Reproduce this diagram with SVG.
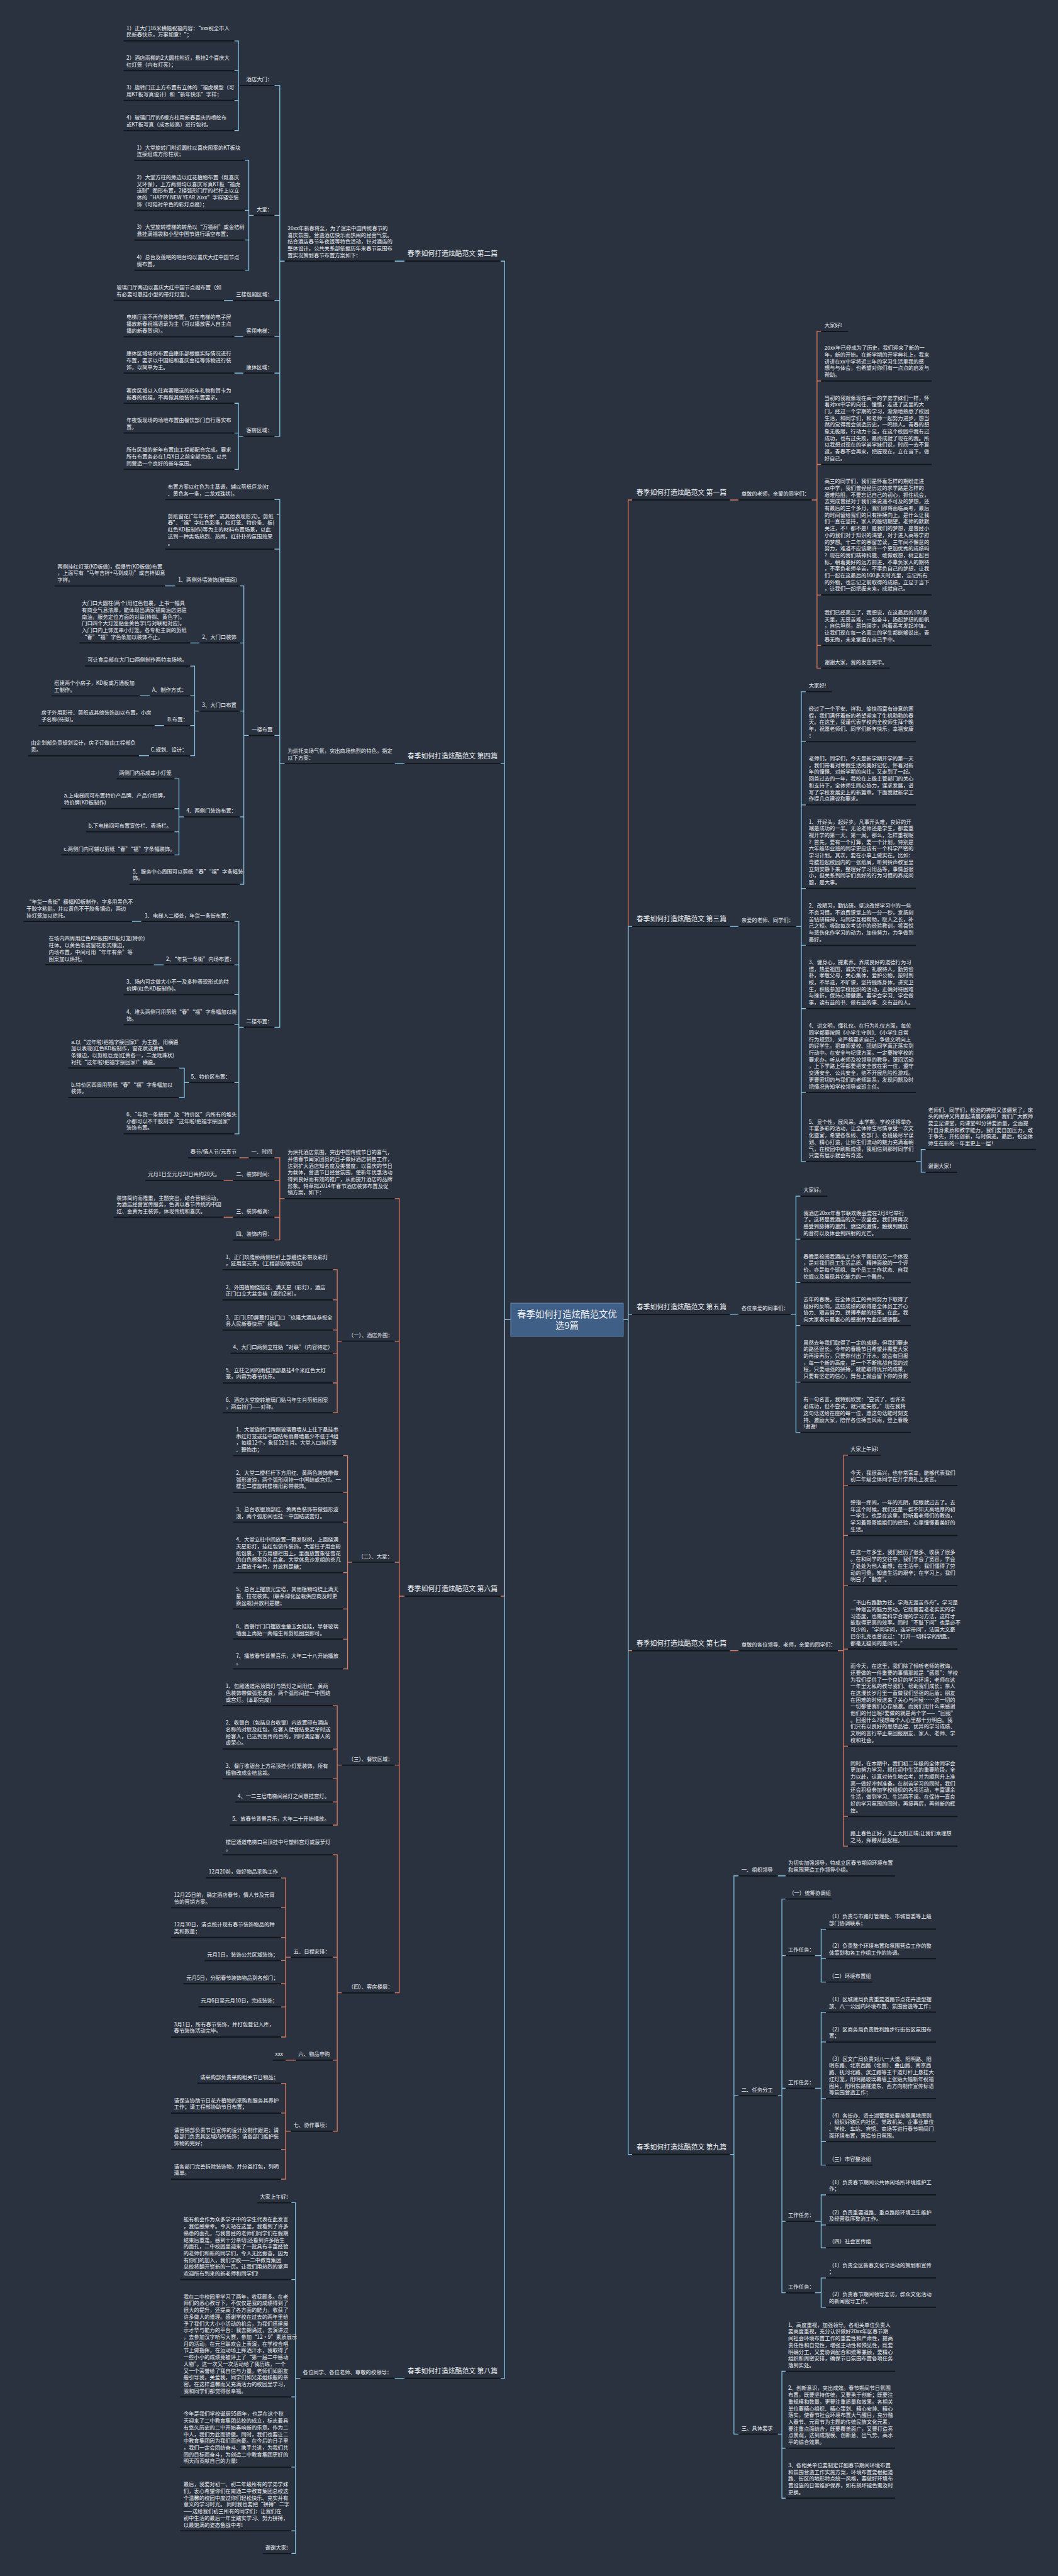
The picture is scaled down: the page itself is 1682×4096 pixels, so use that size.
<svg xmlns="http://www.w3.org/2000/svg" width="1682" height="4096" viewBox="0 0 1682 4096">
<style>
.t{font-family:"Noto Sans CJK SC","Noto Sans",sans-serif;font-size:12.7px;fill:#eef0f3}
.h{font-size:16.5px}
.u{stroke:#12161c;stroke-width:3;fill:none}
.cb{stroke:#86c5e3;stroke-width:2;fill:none}
.co{stroke:#dc7b60;stroke-width:2;fill:none}
</style>
<rect width="1682" height="4096" fill="#2a3240"/>
<g transform="scale(0.657)">
<g id="connectors">
<g class="co">
<path d="M1236 3194H1221V3863H1211"/>
<path d="M1508 3194H1520V1210H1530M1508 3194H1520V3995H1530"/>
<path d="M979 3863H966V2901H955M966 3863V3246H955M966 3863V3781H955M966 3863V4272H955M966 3863V4823H955"/>
<path d="M689 2901H677V2802H664M677 2901V2857H664M677 2901V2946H664M677 2901V3001H664M602 2802H579M564 2857H541M564 2946H541"/>
<path d="M827 3246H816V3073H805M816 3246V3146H805M816 3246V3219H805M816 3246V3275H805M816 3246V3347H805M816 3246V3419H805"/>
<path d="M852 3781H841V3523H830M841 3781V3612H830M841 3781V3684H830M841 3781V3806H830M841 3781V3894H830M841 3781V3967H830M841 3781V4039H830"/>
<path d="M827 4272H816V4128H805M816 4272V4233H805M816 4272V4305H805M816 4272V4361H805M816 4272V4417H805"/>
<path d="M827 4823H816V4489H805M816 4823V4737H805M816 4823V4986H805M816 4823V5158H805"/>
<path d="M704 4737H691V4545H680M691 4737V4617H680M691 4737V4689H680M691 4737V4745H680M691 4737V4801H680M691 4737V4857H680M691 4737V4930H680M716 4986H691"/>
<path d="M704 5158H691V5042H680M691 5158V5114H680M691 5158V5202H680M691 5158V5274H680"/>
<path d="M1766 1210H1787M1964 1210H1977V802H1987M1977 1210V922H1987M1977 1210V1124H1987M1977 1210V1440H1987M1977 1210V1562H1987M1977 1210V1617H1987"/>
<path d="M1766 3995H1787M2027 3995H2041V3522H2052M2041 3995V3595H2052M2041 3995V3716H2052M2041 3995V3837H2052M2041 3995V3991H2052M2041 3995V4226H2052M2041 3995V4396H2052M2041 3995V4468H2052"/>
</g>
<g class="cb">
<path d="M1236 3194H1221V632H1211M1236 3194H1221V1848H1211M1236 3194H1221V5756H1211"/>
<path d="M1508 3194H1520V2242H1530M1508 3194H1520V3181H1530M1508 3194H1520V5214H1530"/>
<path d="M979 632H955M689 632H677V207H664M677 632V521H664M677 632V727H664M677 632V815H664M677 632V903H664M677 632V1056H664"/>
<path d="M579 207H577V99H567M577 207V171H567M577 207V243H567M577 207V316H567"/>
<path d="M614 521H602V388H592M602 521V509H592M602 521V581H592M602 521V654H592M564 727H542M589 815H567M589 903H567"/>
<path d="M589 1056H577V976H567M577 1056V1048H567M577 1056V1136H567"/>
<path d="M979 1848H955M689 1848H677V1209H664M677 1848V1329H664M677 1848V1780H664M677 1848V2486H664"/>
<path d="M602 1780H590V1418H580M590 1780V1556H580M590 1780V1721H580M590 1780V1977H580M590 1780V2140H580M424 1418H399M483 1556H460"/>
<path d="M483 1721H471V1612H460M471 1721V1684H460M471 1721V1756H460M471 1721V1829H460M363 1684H338M397 1756H374M361 1829H336"/>
<path d="M445 1977H433V1885H422M433 1977V1957H422M433 1977V2013H422M433 1977V2069H422"/>
<path d="M590 2486H578V2230H567M578 2486V2335H567M578 2486V2407H567M578 2486V2480H567M578 2486V2620H567M578 2486V2744H567M342 2230H319M396 2335H372M458 2620H446V2585H433M446 2620V2656H433"/>
<path d="M979 5756H955M727 5756H715V5331H705M715 5756V5517H705M715 5756V5801H705M715 5756V5971H705M715 5756V6125H705M715 5756V6180H705"/>
<path d="M1766 2242H1787M1926 2242H1939V1674H1950M1939 2242V1795H1950M1939 2242V1948H1950M1939 2242V2150H1950M1939 2242V2288H1950M1939 2242V2441H1950M1939 2242V2644H1950M1939 2242V2811H1950M2216 2811H2229V2782H2240M2229 2811V2837H2240"/>
<path d="M1766 3181H1787M1913 3181H1926V2895H1937M1926 3181V2999H1937M1926 3181V3104H1937M1926 3181V3208H1937M1926 3181V3345H1937M1926 3181V3467H1937"/>
<path d="M1766 5214H1776V4540H1787M1776 5214V5072H1787M1776 5214V5891H1787M1882 4540H1901M1882 5072H1892V4596H1901M1892 5072V4733H1901M1892 5072V5054H1901M1892 5072V5376H1901M1892 5072V5549H1901M1882 5891H1892V5739H1901M1892 5891V5925H1901M1892 5891V6046H1901"/>
<path d="M1972 4733H1987V4669H1999M1987 4733V4740H1999M1987 4733V4797H1999M1972 5054H1987V4870H1999M1987 5054V4942H1999M1987 5054V5079H1999M1987 5054V5183H1999M1987 5054V5240H1999M1972 5376H1987V5312H1999M1987 5376V5385H1999M1987 5376V5440H1999M1972 5549H1987V5513H1999M1987 5549V5584H1999"/>
</g>
</g>

<g id="center">
<rect x="1236" y="3154" width="272" height="80" fill="#3f5f86" stroke="#5f82ab" stroke-width="2"/>
<text class="t" x="1372" y="3188" font-size="22" text-anchor="middle" style="font-size:22px">春季如何打造炫酷范文优<tspan x="1372" dy="28">选9篇</tspan></text>
</g>

<!-- 第二篇 -->
<g id="b2"><text class="t h" x="986" y="620">春季如何打造炫酷范文 第二篇</text><path class="u" d="M979 632H1211"/></g>
<g id="b2i"><text class="t" x="696" y="556.8">20xx年新春将至，为了渲染中国传统春节的<tspan x="696" dy="16.3">喜庆氛围，营造酒店快乐而热闹的经营气氛。</tspan><tspan x="696" dy="16.3">结合酒店春节年夜饭等特色活动，针对酒店的</tspan><tspan x="696" dy="16.3">整体设计，公共关系部依据历年来春节氛围布</tspan><tspan x="696" dy="16.3">置实况策划春节布置方案如下：</tspan></text><path class="u" d="M689 632H955"/></g>
<g id="b2a"><text class="t" x="596" y="197">酒店大门：</text><path class="u" d="M579 207H664"/></g>
<g id="b2a1"><text class="t" x="306" y="72.7">1）正大门16米横幅祝福内容：“xxx祝全市人<tspan x="306" dy="16.3">民新春快乐，万事如意！”；</tspan></text><path class="u" d="M299 99H567"/></g>
<g id="b2a2"><text class="t" x="306" y="144.7">2）酒店雨棚的2大圆柱附近，悬挂2个喜庆大<tspan x="306" dy="16.3">红灯笼（内有灯亮）；</tspan></text><path class="u" d="M299 171H567"/></g>
<g id="b2a3"><text class="t" x="306" y="216.7">3）旋转门正上方布置有立体的“福虎模型（可<tspan x="306" dy="16.3">用KT板写真设计）和“新年快乐”字样；</tspan></text><path class="u" d="M299 243H567"/></g>
<g id="b2a4"><text class="t" x="306" y="289.7">4）玻璃门厅的6根方柱用新春喜庆的喷绘布<tspan x="306" dy="16.3">或KT板写真（成本较高）进行包衬。</tspan></text><path class="u" d="M299 316H567"/></g>
<g id="b2b"><text class="t" x="621" y="511">大堂：</text><path class="u" d="M614 521H664"/></g>
<g id="b2b1"><text class="t" x="331" y="361.7">1）大堂旋转门附近圆柱以喜庆图案的KT板块<tspan x="331" dy="16.3">连接组成方形柱状；</tspan></text><path class="u" d="M325 388H592"/></g>
<g id="b2b2"><text class="t" x="331" y="433.8">2）大堂方柱的旁边以红花植物布置（既喜庆<tspan x="331" dy="16.3">又环保），上方两侧均以喜庆写真KT板“福虎</tspan><tspan x="331" dy="16.3">送财”图形布置，2楼弧形门厅的栏杆上以立</tspan><tspan x="331" dy="16.3">体的“HAPPY NEW YEAR 20xx”字样镂空装</tspan><tspan x="331" dy="16.3">饰（可陪衬单色的彩灯点缀）；</tspan></text><path class="u" d="M325 509H592"/></g>
<g id="b2b3"><text class="t" x="331" y="554.7">3）大堂旋转楼梯的转角以“万福树”或金桔树<tspan x="331" dy="16.3">悬挂满福袋和小型中国节进行填空布置；</tspan></text><path class="u" d="M325 581H592"/></g>
<g id="b2b4"><text class="t" x="331" y="627.7">4）总台及莲吧的吧台均以喜庆大红中国节点<tspan x="331" dy="16.3">缀布置。</tspan></text><path class="u" d="M325 654H592"/></g>
<g id="b2c"><text class="t" x="571" y="717">三楼包厢区域：</text><path class="u" d="M564 727H664"/></g>
<g id="b2c1"><text class="t" x="282" y="700.7">玻璃门厅两边以喜庆大红中国节点缀布置（如<tspan x="282" dy="16.3">有必要可悬挂小型的带灯灯笼）。</tspan></text><path class="u" d="M275 727H542"/></g>
<g id="b2d"><text class="t" x="596" y="805">客用电梯：</text><path class="u" d="M589 815H664"/></g>
<g id="b2d1"><text class="t" x="306" y="772.4">电梯厅面不再作装饰布置，仅在电梯的电子屏<tspan x="306" dy="16.3">播放新春祝福语录为主（可以播放客人自主点</tspan><tspan x="306" dy="16.3">播的新春贺词）。</tspan></text><path class="u" d="M299 815H567"/></g>
<g id="b2e"><text class="t" x="596" y="893">康体区域：</text><path class="u" d="M589 903H664"/></g>
<g id="b2e1"><text class="t" x="306" y="860.4">康体区域场的布置由康乐部根据实际情况进行<tspan x="306" dy="16.3">布置，要求以中国结和喜庆金桔等饰物进行装</tspan><tspan x="306" dy="16.3">饰，以简单为主。</tspan></text><path class="u" d="M299 903H567"/></g>
<g id="b2f"><text class="t" x="596" y="1046">客房区域：</text><path class="u" d="M589 1056H664"/></g>
<g id="b2f1"><text class="t" x="306" y="949.7">客房区域以入住宾客赠送的新年礼物和贺卡为<tspan x="306" dy="16.3">新春的祝福，不再做其他装饰布置要求。</tspan></text><path class="u" d="M299 976H567"/></g>
<g id="b2f2"><text class="t" x="306" y="1021.7">年夜饭现场的场地布置由餐饮部门自行落实布<tspan x="306" dy="16.3">置。</tspan></text><path class="u" d="M299 1048H567"/></g>
<g id="b2f3"><text class="t" x="306" y="1093.4">所有区域的新年布置由工程部配合完成，要求<tspan x="306" dy="16.3">所有布置务必在1月X日之前全部完成，以共</tspan><tspan x="306" dy="16.3">同营造一个良好的新年氛围。</tspan></text><path class="u" d="M299 1136H567"/></g>

<!-- 第四篇 -->
<g id="b4"><text class="t h" x="986" y="1836">春季如何打造炫酷范文 第四篇</text><path class="u" d="M979 1848H1211"/></g>
<g id="b4i"><text class="t" x="696" y="1821.7">为烘托卖场气氛，突出商场热烈的特色，指定<tspan x="696" dy="16.3">以下方案：</tspan></text><path class="u" d="M689 1848H955"/></g>
<g id="b4a"><text class="t" x="406" y="1182.7">布置方案以红色为主基调，辅以剪纸巨龙(红<tspan x="406" dy="16.3">、黄色各一条，二龙戏珠状)。</tspan></text><path class="u" d="M400 1209H664"/></g>
<g id="b4b"><text class="t" x="406" y="1253.8">剪纸窗花(“年年有余”或其他表现形式)。剪纸“<tspan x="406" dy="16.3">春”、“福”字红色彩条，红灯笼、特价条、板(</tspan><tspan x="406" dy="16.3">红色KD板制作)等为主的材料布置场景，以此</tspan><tspan x="406" dy="16.3">达到一种卖场热烈、热闹，红扑扑的氛围效果</tspan><tspan x="406" dy="16.3">。</tspan></text><path class="u" d="M400 1329H664"/></g>
<g id="b4c"><text class="t" x="609" y="1770">一楼布置</text><path class="u" d="M602 1780H664"/></g>
<g id="b4c1"><text class="t" x="431" y="1408">1、两侧外墙装饰(玻璃面)</text><path class="u" d="M424 1418H580"/></g>
<g id="b4c1a"><text class="t" x="139" y="1375.4">两侧挂红灯笼(KD板做)，假爆竹(KD板做)布置<tspan x="139" dy="16.3">，上面写有“马年吉祥+马到成功”或吉祥如意</tspan><tspan x="139" dy="16.3">字样。</tspan></text><path class="u" d="M132 1418H399"/></g>
<g id="b4c2"><text class="t" x="489" y="1546">2、大门口装饰</text><path class="u" d="M483 1556H580"/></g>
<g id="b4c2a"><text class="t" x="198" y="1464.5">大门口大圆柱(两个)用红色包裹，上书一幅具<tspan x="198" dy="16.3">有商业气息浓厚，能体现出满家福南油店进驻</tspan><tspan x="198" dy="16.3">南油，服务定位方面的对联(待拟、黄色字)。</tspan><tspan x="198" dy="16.3">门口四个大灯笼贴金黄色字(与对联相对应)。</tspan><tspan x="198" dy="16.3">入门口内上饰连串小灯笼。各专柜主调的剪纸</tspan><tspan x="198" dy="16.3">“春”“福”字色条加以装饰不止。</tspan></text><path class="u" d="M192 1556H460"/></g>
<g id="b4c3"><text class="t" x="489" y="1711">3、大门口布置</text><path class="u" d="M483 1721H580"/></g>
<g id="b4c3a"><text class="t" x="212" y="1602">可让食品部在大门口两侧制作两特卖场地。</text><path class="u" d="M206 1612H460"/></g>
<g id="b4c3b"><text class="t" x="368" y="1674">A、制作方式：</text><path class="u" d="M363 1684H460"/></g>
<g id="b4c3b1"><text class="t" x="131" y="1657.7">搭建两个小房子，KD板或万通板加<tspan x="131" dy="16.3">工制作。</tspan></text><path class="u" d="M125 1684H338"/></g>
<g id="b4c3c"><text class="t" x="405" y="1746">B.布置：</text><path class="u" d="M397 1756H460"/></g>
<g id="b4c3c1"><text class="t" x="100" y="1729.7">房子外用彩带、剪纸或其他装饰加以布置，小房<tspan x="100" dy="16.3">子名称(待拟)。</tspan></text><path class="u" d="M93 1756H374"/></g>
<g id="b4c3d"><text class="t" x="365" y="1819">C.规划、设计：</text><path class="u" d="M361 1829H460"/></g>
<g id="b4c3d1"><text class="t" x="75" y="1802.7">由企划部负责规划设计，房子订做由工程部负<tspan x="75" dy="16.3">责。</tspan></text><path class="u" d="M68 1829H336"/></g>
<g id="b4c4"><text class="t" x="451" y="1967">4、两侧门装饰布置：</text><path class="u" d="M445 1977H580"/></g>
<g id="b4c4a"><text class="t" x="288" y="1875">两侧门内吊成串小灯笼</text><path class="u" d="M282 1885H422"/></g>
<g id="b4c4b"><text class="t" x="155" y="1930.7">a.上电梯间可布置特价产品牌、产品介绍牌，<tspan x="155" dy="16.3">特价牌(KD板制作)</tspan></text><path class="u" d="M148 1957H422"/></g>
<g id="b4c4c"><text class="t" x="214" y="2003">b.下电梯间可布置宣传栏、表扬栏。</text><path class="u" d="M208 2013H422"/></g>
<g id="b4c4d"><text class="t" x="154" y="2059">c.两侧门内可辅以剪纸“春”“福”字条幅装饰。</text><path class="u" d="M148 2069H422"/></g>
<g id="b4c5"><text class="t" x="321" y="2113.7">5、服务中心周围可以剪纸“春”“福”字条幅装<tspan x="321" dy="16.3">饰。</tspan></text><path class="u" d="M313 2140H580"/></g>
<g id="b4d"><text class="t" x="596" y="2476">二楼布置：</text><path class="u" d="M590 2486H664"/></g>
<g id="b4d1"><text class="t" x="350" y="2220">1、电梯入二楼处，年货一条街布置：</text><path class="u" d="M342 2230H567"/></g>
<g id="b4d1a"><text class="t" x="64" y="2187.4">“年货一条街”横幅KD板制作，字多用黑色不<tspan x="64" dy="16.3">干胶字粘贴，并以黄色不干胶条镶边，两边</tspan><tspan x="64" dy="16.3">挂灯笼加以烘托。</tspan></text><path class="u" d="M57 2230H319"/></g>
<g id="b4d2"><text class="t" x="402" y="2325">2、“年货一条街”内场布置：</text><path class="u" d="M396 2335H567"/></g>
<g id="b4d2a"><text class="t" x="118" y="2276.1">在场内四周用红色KD板围KD板灯笼(特价)<tspan x="118" dy="16.3">柱体。以黄色条或窗花形式镶边，</tspan><tspan x="118" dy="16.3">内场布置，中间可用“年年有余”等</tspan><tspan x="118" dy="16.3">图案加以烘托。</tspan></text><path class="u" d="M110 2335H372"/></g>
<g id="b4d3"><text class="t" x="306" y="2380.7">3、场内可定做大小不一及多种表现形式的特<tspan x="306" dy="16.3">价牌(红色KD板制作)。</tspan></text><path class="u" d="M299 2407H567"/></g>
<g id="b4d4"><text class="t" x="306" y="2453.7">4、堆头两侧可用剪纸“春”“福”字条幅加以装<tspan x="306" dy="16.3">饰。</tspan></text><path class="u" d="M299 2480H567"/></g>
<g id="b4d5"><text class="t" x="462" y="2610">5、特价区布置：</text><path class="u" d="M458 2620H567"/></g>
<g id="b4d5a"><text class="t" x="172" y="2526.1">a.以“过年啦!把福字接回家!”为主题，用横匾<tspan x="172" dy="16.3">加以表现(红色KD板制作，窗花状或黄色</tspan><tspan x="172" dy="16.3">条镶边，以剪纸巨龙(红黄各一，二龙戏珠状)</tspan><tspan x="172" dy="16.3">衬托“过年啦!把福字接回家!”横匾。</tspan></text><path class="u" d="M165 2585H433"/></g>
<g id="b4d5b"><text class="t" x="172" y="2629.7">b.特价区四周用剪纸“春”“福”字条幅加以<tspan x="172" dy="16.3">装饰。</tspan></text><path class="u" d="M165 2656H433"/></g>
<g id="b4d6"><text class="t" x="306" y="2701.4">6、“年货一条接街”及“特价区”内所有的堆头<tspan x="306" dy="16.3">小都可以不干胶刻字“过年啦!把福字接回家”</tspan><tspan x="306" dy="16.3">装饰布置。</tspan></text><path class="u" d="M299 2744H567"/></g>

<!-- 第六篇 -->
<g id="b6"><text class="t h" x="986" y="3851">春季如何打造炫酷范文 第六篇</text><path class="u" d="M979 3863H1211"/></g>
<g id="b6i"><text class="t" x="696" y="2793.2">为烘托酒店氛围，突出中国传统节日的喜气，<tspan x="696" dy="16.3">并借春节阖家团员的日子做好酒店销售工作，</tspan><tspan x="696" dy="16.3">达到扩大酒店知名度及美誉度，以喜庆的节日</tspan><tspan x="696" dy="16.3">为载体，营造节日经营氛围，使新年优惠活动</tspan><tspan x="696" dy="16.3">得到良好而有效的推广，从而提升酒店的品牌</tspan><tspan x="696" dy="16.3">形象。特草拟2014年春节酒店装饰布置及促</tspan><tspan x="696" dy="16.3">销方案，如下：</tspan></text><path class="u" d="M689 2901H955"/></g>
<g id="b6i1"><text class="t" x="608" y="2792">一、时间</text><path class="u" d="M602 2802H664"/></g>
<g id="b6i1a"><text class="t" x="461" y="2792">春节/情人节/元宵节</text><path class="u" d="M455 2802H579"/></g>
<g id="b6i2"><text class="t" x="571" y="2847">二、装饰时间：</text><path class="u" d="M564 2857H664"/></g>
<g id="b6i2a"><text class="t" x="358" y="2847">元月1日至元月20日共约20天。</text><path class="u" d="M352 2857H541"/></g>
<g id="b6i3"><text class="t" x="571" y="2936">三、装饰格调：</text><path class="u" d="M564 2946H664"/></g>
<g id="b6i3a"><text class="t" x="282" y="2903.4">装饰简约而隆重，主题突出，结合营销活动，<tspan x="282" dy="16.3">为酒店经营宣传服务，色调以春节传统的中国</tspan><tspan x="282" dy="16.3">红、金黄为主装饰，体现传统和喜庆。</tspan></text><path class="u" d="M275 2946H541"/></g>
<g id="b6i4"><text class="t" x="571" y="2991">四、装饰内容：</text><path class="u" d="M564 3001H664"/></g>
<g id="b6a"><text class="t" x="843" y="3236">（一）、酒店外围：</text><path class="u" d="M827 3246H955"/></g>
<g id="b6a1"><text class="t" x="546" y="3046.7">1、正门玖隆桥两侧栏杆上部缠绕彩带及彩灯<tspan x="546" dy="16.3">，延用至元宵。(工程部协助完成)</tspan></text><path class="u" d="M539 3073H805"/></g>
<g id="b6a2"><text class="t" x="546" y="3119.7">2、外围植物绕拉花、满天星（彩灯），酒店<tspan x="546" dy="16.3">正门口立大盆金桔（高约2米）。</tspan></text><path class="u" d="M539 3146H805"/></g>
<g id="b6a3"><text class="t" x="546" y="3192.7">3、正门LED屏幕打出门口“玖隆大酒店恭祝全<tspan x="546" dy="16.3">县人民新春快乐”横幅。</tspan></text><path class="u" d="M539 3219H805"/></g>
<g id="b6a4"><text class="t" x="564" y="3265">4、大门口两侧立柱贴“对联”（内容待定）</text><path class="u" d="M558 3275H805"/></g>
<g id="b6a5"><text class="t" x="546" y="3320.7">5、立柱之间的雨搭顶部悬挂4个米红色大灯<tspan x="546" dy="16.3">笼，内容为春节快乐。</tspan></text><path class="u" d="M539 3347H805"/></g>
<g id="b6a6"><text class="t" x="546" y="3392.7">6、酒店大堂旋转玻璃门贴马年生肖剪纸图案<tspan x="546" dy="16.3">，两扇拉门——对称。</tspan></text><path class="u" d="M539 3419H805"/></g>
<g id="b6b"><text class="t" x="867" y="3771">（二）、大堂：</text><path class="u" d="M852 3781H955"/></g>
<g id="b6b1"><text class="t" x="571" y="3464.1">1、大堂旋转门两侧玻璃幕墙从上往下悬挂串<tspan x="571" dy="16.3">串红灯笼或挂中国结每扇幕墙最少不低于4组</tspan><tspan x="571" dy="16.3">，每组12个，象征12生肖。大堂入口挂灯笼</tspan><tspan x="571" dy="16.3">、鞭炮串；</tspan></text><path class="u" d="M564 3523H830"/></g>
<g id="b6b2"><text class="t" x="571" y="3569.4">2、大堂二楼栏杆下方用红、黄两色装饰带做<tspan x="571" dy="16.3">弧形波浪，两个弧形间挂一中国结或宫灯。一</tspan><tspan x="571" dy="16.3">楼至二楼旋转楼梯用彩带装饰。</tspan></text><path class="u" d="M564 3612H830"/></g>
<g id="b6b3"><text class="t" x="571" y="3657.7">3、总台收银顶部红、黄两色装饰带做弧形波<tspan x="571" dy="16.3">浪，两个弧形间也挂一中国结或宫灯。</tspan></text><path class="u" d="M564 3684H830"/></g>
<g id="b6b4"><text class="t" x="571" y="3730.8">4、大堂立柱中间放置一颗发财树，上面绕满<tspan x="571" dy="16.3">天星彩灯，挂红包袋作装饰，大堂柱子用金粉</tspan><tspan x="571" dy="16.3">纸包裹，下方用栅栏围上，里面放置象征雪花</tspan><tspan x="571" dy="16.3">的白色棉絮及礼品盒。大堂休息沙发组的茶几</tspan><tspan x="571" dy="16.3">上摆放千年竹，并放利是糖；</tspan></text><path class="u" d="M564 3806H830"/></g>
<g id="b6b5"><text class="t" x="571" y="3851.4">5、总台上摆放元宝塔，其他植物均绕上满天<tspan x="571" dy="16.3">星、拉花装饰。(联系绿化盆栽供应商及时更</tspan><tspan x="571" dy="16.3">换盆栽)并放利是糖；</tspan></text><path class="u" d="M564 3894H830"/></g>
<g id="b6b6"><text class="t" x="571" y="3940.7">6、西餐厅门口摆放金童玉女娃娃，早餐玻璃<tspan x="571" dy="16.3">墙面上再贴一两幅生肖剪纸图案即可。</tspan></text><path class="u" d="M564 3967H830"/></g>
<g id="b6b7"><text class="t" x="571" y="4012.7">7、播放春节背景音乐，大年二十八开始播放<tspan x="571" dy="16.3">。</tspan></text><path class="u" d="M564 4039H830"/></g>
<g id="b6c"><text class="t" x="843" y="4262">（三）、餐饮区域：</text><path class="u" d="M827 4272H955"/></g>
<g id="b6c1"><text class="t" x="546" y="4085.4">1、包厢通道吊顶筒灯与筒灯之间用红、黄两<tspan x="546" dy="16.3">色装饰带做弧形波浪，两个弧形间挂一中国结</tspan><tspan x="546" dy="16.3">或宫灯。(本职完成)</tspan></text><path class="u" d="M539 4128H805"/></g>
<g id="b6c2"><text class="t" x="546" y="4174.1">2、收银台（包括总台收银）内放置印有酒店<tspan x="546" dy="16.3">名称的对联及红包，在客人就餐结束买单时送</tspan><tspan x="546" dy="16.3">给客人，已达到宣传的目的，同时满足客人的</tspan><tspan x="546" dy="16.3">虚荣心。</tspan></text><path class="u" d="M539 4233H805"/></g>
<g id="b6c3"><text class="t" x="546" y="4278.7">3、餐厅收银台上方吊顶挂小灯笼装饰，所有<tspan x="546" dy="16.3">植物改成金桔盆栽。</tspan></text><path class="u" d="M539 4305H805"/></g>
<g id="b6c4"><text class="t" x="575" y="4351">4、一二三层电梯间吊灯之间悬挂宫灯。</text><path class="u" d="M569 4361H805"/></g>
<g id="b6c5"><text class="t" x="562" y="4407">5、放春节背景音乐，大年二十开始播放。</text><path class="u" d="M556 4417H805"/></g>
<g id="b6d"><text class="t" x="843" y="4813">（四）、客房楼层：</text><path class="u" d="M827 4823H955"/></g>
<g id="b6d1"><text class="t" x="546" y="4462.7">楼层通道电梯口吊顶挂中号塑料宫灯或菠萝灯<tspan x="546" dy="16.3">。</tspan></text><path class="u" d="M539 4489H805"/></g>
<g id="b6d2"><text class="t" x="710" y="4727">五、日程安排：</text><path class="u" d="M704 4737H805"/></g>
<g id="b6d2a"><text class="t" x="505" y="4535">12月20前，做好物品采购工作</text><path class="u" d="M499 4545H680"/></g>
<g id="b6d2b"><text class="t" x="421" y="4590.7">12月25日前，确定酒店春节，情人节及元宵<tspan x="421" dy="16.3">节的营销方案。</tspan></text><path class="u" d="M414 4617H680"/></g>
<g id="b6d2c"><text class="t" x="421" y="4662.7">12月30日，清点统计现有春节装饰物品的种<tspan x="421" dy="16.3">类和数量；</tspan></text><path class="u" d="M414 4689H680"/></g>
<g id="b6d2d"><text class="t" x="501" y="4735">元月1日，装饰公共区域装饰；</text><path class="u" d="M495 4745H680"/></g>
<g id="b6d2e"><text class="t" x="451" y="4791">元月5日，分配春节装饰物品到各部门；</text><path class="u" d="M444 4801H680"/></g>
<g id="b6d2f"><text class="t" x="486" y="4847">元月6日至元月10日，完成装饰；</text><path class="u" d="M480 4857H680"/></g>
<g id="b6d2g"><text class="t" x="421" y="4903.7">3月1日，所有春节装饰，并打包登记入库，<tspan x="421" dy="16.3">春节装饰活动完毕。</tspan></text><path class="u" d="M414 4930H680"/></g>
<g id="b6d3"><text class="t" x="722" y="4976">六、物品申购</text><path class="u" d="M716 4986H805"/></g>
<g id="b6d3a"><text class="t" x="666" y="4976">xxx</text><path class="u" d="M660 4986H691"/></g>
<g id="b6d4"><text class="t" x="710" y="5148">七、协作事项：</text><path class="u" d="M704 5158H805"/></g>
<g id="b6d4a"><text class="t" x="484" y="5032">请采购部负责采购相关节日物品；</text><path class="u" d="M478 5042H680"/></g>
<g id="b6d4b"><text class="t" x="421" y="5087.7">请保洁协助节日花卉植物的采购和服务其养护<tspan x="421" dy="16.3">工作；请工程部协助节日布置；</tspan></text><path class="u" d="M414 5114H680"/></g>
<g id="b6d4c"><text class="t" x="421" y="5159.4">请营销部负责节日宣传的设计及制作跟进；请<tspan x="421" dy="16.3">各部门负责其区域内的装饰；请各部门维护装</tspan><tspan x="421" dy="16.3">饰物的完好；</tspan></text><path class="u" d="M414 5202H680"/></g>
<g id="b6d4d"><text class="t" x="421" y="5247.7">请各部门完善拆除装饰物，并分类打包，列明<tspan x="421" dy="16.3">清单。</tspan></text><path class="u" d="M414 5274H680"/></g>

<!-- 第八篇 -->
<g id="b8"><text class="t h" x="986" y="5744">春季如何打造炫酷范文 第八篇</text><path class="u" d="M979 5756H1211"/></g>
<g id="b8i"><text class="t" x="733" y="5746">各位同学、各位老师、尊敬的校领导：</text><path class="u" d="M727 5756H955"/></g>
<g id="b8a"><text class="t" x="629" y="5321">大家上午好!</text><path class="u" d="M622 5331H705"/></g>
<g id="b8b"><text class="t" x="444" y="5376.6">能有机会作为众多学子中的学生代表在此发言<tspan x="444" dy="16.3">，我倍感荣幸。今天站在这里，我看到了许多</tspan><tspan x="444" dy="16.3">熟悉的面孔，与我曾经的老师们同学们在假期</tspan><tspan x="444" dy="16.3">结束后重逢，感到十分亲切;还看到许多陌生</tspan><tspan x="444" dy="16.3">的面孔，二中校园里迎来了一批具有丰富经验</tspan><tspan x="444" dy="16.3">的老师们和新的同学们，令人无比振奋。因为</tspan><tspan x="444" dy="16.3">有你们的加入，我们学校——二中教育集团</tspan><tspan x="444" dy="16.3">总校将翻开崭新的一页。让我们用热烈的掌声</tspan><tspan x="444" dy="16.3">欢迎所有到来的新老师和同学们!</tspan></text><path class="u" d="M436 5517H705"/></g>
<g id="b8c"><text class="t" x="444" y="5562.8">我在二中校园里学习了两年，收获颇多。在老<tspan x="444" dy="16.3">师们的悉心教导下，不仅仅是我的成绩得到了</tspan><tspan x="444" dy="16.3">很大的提升，还提高了各方面的能力，收获了</tspan><tspan x="444" dy="16.3">许多做人的道理。感谢学校在过去的两年里给</tspan><tspan x="444" dy="16.3">予了我们大大小小活动的机会，为我们搭建展</tspan><tspan x="444" dy="16.3">示才华与能力的平台：我去朗诵过，去演讲过</tspan><tspan x="444" dy="16.3">，去参加汉字听写大赛，参加“12·9”素质展示</tspan><tspan x="444" dy="16.3">月的活动，在元旦联欢会上表演，在学校合唱</tspan><tspan x="444" dy="16.3">节上做指挥，在运动场上挥洒汗水，我取得了</tspan><tspan x="444" dy="16.3">一些小小的成绩竟被评上了“第一届二中感动</tspan><tspan x="444" dy="16.3">人物”。这一次又一次活动给了我历练，一个</tspan><tspan x="444" dy="16.3">又一个荣誉给了我自信与力量。老师们如朋友</tspan><tspan x="444" dy="16.3">般引导我，关爱我，同学们如兄弟姐妹般的亲</tspan><tspan x="444" dy="16.3">密。在这样温馨而又充满活力的校园里学习，</tspan><tspan x="444" dy="16.3">我和同学们都觉得很幸福。</tspan></text><path class="u" d="M436 5801H705"/></g>
<g id="b8d"><text class="t" x="444" y="5846.9">今年是我们学校诞辰95周年，也是在这个秋<tspan x="444" dy="16.3">天迎来了二中教育集团总校的成立，标志着具</tspan><tspan x="444" dy="16.3">有悠久历史的二中开始奏响新的乐章。作为二</tspan><tspan x="444" dy="16.3">中人，我们为此而骄傲。同时，我们也要让二</tspan><tspan x="444" dy="16.3">中教育集团因为我们而自豪。在今后的日子里</tspan><tspan x="444" dy="16.3">，我们一定会团结奋斗、携手共进，为我们共</tspan><tspan x="444" dy="16.3">同的目标而奋斗，为创造二中教育集团更好的</tspan><tspan x="444" dy="16.3">明天而贡献自己的力量!</tspan></text><path class="u" d="M436 5971H705"/></g>
<g id="b8e"><text class="t" x="444" y="6017.2">最后，我要对初一、初二年级所有的学弟学妹<tspan x="444" dy="16.3">们，衷心希望你们在南通二中教育集团总校这</tspan><tspan x="444" dy="16.3">个温馨的校园中度过你们轻松快乐、充实并有</tspan><tspan x="444" dy="16.3">意义的学习时光。 同时我也要把“拼搏”二字</tspan><tspan x="444" dy="16.3">——送给我们初三所有的同学们：让我们在</tspan><tspan x="444" dy="16.3">初中生活的最后一年里踏实学习、努力拼搏，</tspan><tspan x="444" dy="16.3">以最饱满的姿态备战中考!</tspan></text><path class="u" d="M436 6125H705"/></g>
<g id="b8f"><text class="t" x="642" y="6170">谢谢大家!</text><path class="u" d="M636 6180H705"/></g>

<!-- 第一篇 -->
<g id="r1"><text class="t h" x="1540" y="1198">春季如何打造炫酷范文 第一篇</text><path class="u" d="M1530 1210H1766"/></g>
<g id="r1i"><text class="t" x="1794" y="1200">尊敬的老师，亲爱的同学们：</text><path class="u" d="M1787 1210H1964"/></g>
<g id="r1a"><text class="t" x="1995" y="792">大家好!</text><path class="u" d="M1987 802H2052"/></g>
<g id="r1b"><text class="t" x="1995" y="846.8">20xx年已经成为了历史，我们迎来了新的一<tspan x="1995" dy="16.3">年，新的开始。在新学期的开学典礼上，我来</tspan><tspan x="1995" dy="16.3">讲讲在xx中学将近三年的学习生活里我的感</tspan><tspan x="1995" dy="16.3">想与与体会，也希望对你们有一点点的启发与</tspan><tspan x="1995" dy="16.3">帮助。</tspan></text><path class="u" d="M1987 922H2254"/></g>
<g id="r1c"><text class="t" x="1995" y="967.3">当初的我就像现在高一的学弟学妹们一样，怀<tspan x="1995" dy="16.3">着对xx中学的向往、憧憬，走进了这里的大</tspan><tspan x="1995" dy="16.3">门，经过一个学期的学习，渐渐地熟悉了校园</tspan><tspan x="1995" dy="16.3">生活，和同学们，和老师一起努力进步，想当</tspan><tspan x="1995" dy="16.3">然的觉得我会创造历史，一鸣惊人。青春的想</tspan><tspan x="1995" dy="16.3">象无极限，行动力十足，在这个校园中我有过</tspan><tspan x="1995" dy="16.3">成功，也有过失败，最终成就了现在的我。所</tspan><tspan x="1995" dy="16.3">以我想对现在的学弟学妹们说，时间一去不复</tspan><tspan x="1995" dy="16.3">返，青春不会再来，把握现在，立在当下，做</tspan><tspan x="1995" dy="16.3">好自己。</tspan></text><path class="u" d="M1987 1124H2254"/></g>
<g id="r1d"><text class="t" x="1995" y="1169.2">高三的同学们，我们是怀着怎样的期盼走进<tspan x="1995" dy="16.3">xx中学，我们曾经经历过的求学路是怎样的</tspan><tspan x="1995" dy="16.3">艰难险阻，不要忘记自己的初心，抓住机会，</tspan><tspan x="1995" dy="16.3">去完成曾经对于我们来说遥不可及的梦想，还</tspan><tspan x="1995" dy="16.3">有最后的三个多月，我们即将面临高考，最后</tspan><tspan x="1995" dy="16.3">的时间留给我们的只有拼搏向上。是什么让我</tspan><tspan x="1995" dy="16.3">们一直在坚持，家人的殷切期望，老师的默默</tspan><tspan x="1995" dy="16.3">关注，不！都不是！是我们的梦想，是曾经小</tspan><tspan x="1995" dy="16.3">小的我们对于知识的渴望，对于进入高等学府</tspan><tspan x="1995" dy="16.3">的梦想。十二年的寒窗苦读，三年间不懈怠的</tspan><tspan x="1995" dy="16.3">努力，难道不应该期许一个更加优秀的成绩吗</tspan><tspan x="1995" dy="16.3">？现在的我们精神抖擞、敢做敢想，树立起目</tspan><tspan x="1995" dy="16.3">标，朝着美好的远方前进，不辜负家人的期待</tspan><tspan x="1995" dy="16.3">，不辜负老师辛苦，不辜负自己的梦想，让我</tspan><tspan x="1995" dy="16.3">们一起在这最后的100多天时光里，忘记所有</tspan><tspan x="1995" dy="16.3">的外物，也忘记之前取得的成绩，立足于当下</tspan><tspan x="1995" dy="16.3">，让我们一起把握未来，成就自己。</tspan></text><path class="u" d="M1987 1440H2254"/></g>
<g id="r1e"><text class="t" x="1995" y="1486.8">我们已经高三了，我想说，在这最后的100多<tspan x="1995" dy="16.3">天里，无畏苦难，一起奋斗，扬起梦想的船帆</tspan><tspan x="1995" dy="16.3">，自信坦然，昂首阔步，向着高考发起冲锋。</tspan><tspan x="1995" dy="16.3">让我们现在每一名高三的学生都能够说出，青</tspan><tspan x="1995" dy="16.3">春无悔，未来掌握在自己手中。</tspan></text><path class="u" d="M1987 1562H2254"/></g>
<g id="r1f"><text class="t" x="1995" y="1607">谢谢大家，我的发言完毕。</text><path class="u" d="M1987 1617H2153"/></g>

<!-- 第三篇 -->
<g id="r3"><text class="t h" x="1540" y="2230">春季如何打造炫酷范文 第三篇</text><path class="u" d="M1530 2242H1766"/></g>
<g id="r3i"><text class="t" x="1794" y="2232">亲爱的老师、同学们：</text><path class="u" d="M1787 2242H1926"/></g>
<g id="r3a"><text class="t" x="1957" y="1664">大家好!</text><path class="u" d="M1950 1674H2013"/></g>
<g id="r3b"><text class="t" x="1957" y="1719.8">经过了一个平安、祥和、愉快而富有诗意的寒<tspan x="1957" dy="16.3">假，我们满怀着新的希望迎来了生机勃勃的春</tspan><tspan x="1957" dy="16.3">天。在这里，我谨代表学校向全校师生拜个晚</tspan><tspan x="1957" dy="16.3">年，祝愿老师们、同学们新年快乐，幸福安康</tspan><tspan x="1957" dy="16.3">！</tspan></text><path class="u" d="M1950 1795H2216"/></g>
<g id="r3c"><text class="t" x="1957" y="1840.2">老师们，同学们，今天是新学期开学的第一天<tspan x="1957" dy="16.3">，我们带着对寒假生活的美好记忆、怀着对新</tspan><tspan x="1957" dy="16.3">年的憧憬、对新学期的向往，又走到了一起。</tspan><tspan x="1957" dy="16.3">回首过去的一年，我校在上级主管部门的关心</tspan><tspan x="1957" dy="16.3">和支持下，全体师生同心协力，谋求发展，谱</tspan><tspan x="1957" dy="16.3">写了学校发展史上的新篇章。下面我就新学工</tspan><tspan x="1957" dy="16.3">作提几点建议和要求。</tspan></text><path class="u" d="M1950 1948H2216"/></g>
<g id="r3d"><text class="t" x="1957" y="1993.3">1、开好头，起好步。凡事开头难，良好的开<tspan x="1957" dy="16.3">端是成功的一半。无论老师还是学生，都要重</tspan><tspan x="1957" dy="16.3">视开学的第一天、第一周。那么，怎样重视呢</tspan><tspan x="1957" dy="16.3">？首先，要有一个打算，要一个计划，特别是</tspan><tspan x="1957" dy="16.3">六年级毕业班的同学更应该有一个科学严密的</tspan><tspan x="1957" dy="16.3">学习计划。其次，要在小事上做实在。比如：</tspan><tspan x="1957" dy="16.3">弯腰捡起校园内的一张纸屑，听到铃声教室里</tspan><tspan x="1957" dy="16.3">立刻安静下来，整理好学习用品等，事情虽很</tspan><tspan x="1957" dy="16.3">小，但关系到同学们良好的行为习惯的养成问</tspan><tspan x="1957" dy="16.3">题，是大事。</tspan></text><path class="u" d="M1950 2150H2216"/></g>
<g id="r3e"><text class="t" x="1957" y="2196.5">2、改陋习，勤钻研。坚决改掉学习中的一些<tspan x="1957" dy="16.3">不良习惯，不浪费课堂上的一分一秒，发扬刻</tspan><tspan x="1957" dy="16.3">苦钻研精神，与同学互相帮助，取人之长，补</tspan><tspan x="1957" dy="16.3">己之短。吸取每次考试中的经验教训，将喜悦</tspan><tspan x="1957" dy="16.3">与悲伤化作学习的动力，加倍努力，力争做到</tspan><tspan x="1957" dy="16.3">最好。</tspan></text><path class="u" d="M1950 2288H2216"/></g>
<g id="r3f"><text class="t" x="1957" y="2333.2">3、健身心，提素养。养成良好的道德行为习<tspan x="1957" dy="16.3">惯，热爱祖国，诚实守信，礼貌待人，勤劳俭</tspan><tspan x="1957" dy="16.3">朴，孝敬父母，关心集体，爱护公物，按时到</tspan><tspan x="1957" dy="16.3">校，不早退，不旷课，坚持锻炼身体，讲究卫</tspan><tspan x="1957" dy="16.3">生，积极参加学校组织的活动，正确对待困难</tspan><tspan x="1957" dy="16.3">与挫折，保持心理健康。要学会学习、学会做</tspan><tspan x="1957" dy="16.3">事，读有益的书、做有益的事、交有益的人。</tspan></text><path class="u" d="M1950 2441H2216"/></g>
<g id="r3g"><text class="t" x="1957" y="2487.3">4、讲文明，懂礼仪。在行为礼仪方面，每位<tspan x="1957" dy="16.3">同学都要按照《小学生守则》、《小学生日常</tspan><tspan x="1957" dy="16.3">行为规范》、来严格要求自己，争做文明向上</tspan><tspan x="1957" dy="16.3">的好学生。把尊师爱校、团结同学真正落实到</tspan><tspan x="1957" dy="16.3">行动中。在安全与纪律方面，一定要按学校的</tspan><tspan x="1957" dy="16.3">要求办，听从老师及校领导的教导，课间活动</tspan><tspan x="1957" dy="16.3">，上下学路上等都要把安全放在第一位，遵守</tspan><tspan x="1957" dy="16.3">交通安全、公共安全，绝不开展危险性游戏。</tspan><tspan x="1957" dy="16.3">更要密切的与我们的老师联系，发现问题及时</tspan><tspan x="1957" dy="16.3">把情况告知学校领导或班主任。</tspan></text><path class="u" d="M1950 2644H2216"/></g>
<g id="r3h"><text class="t" x="1957" y="2719.5">5、显个性，展风采。本学期，学校还将举办<tspan x="1957" dy="16.3">丰富多彩的活动，让全体师生尽情享受一次文</tspan><tspan x="1957" dy="16.3">化盛宴，希望各条线、各部门、各班级尽早谋</tspan><tspan x="1957" dy="16.3">划、精心打造，让师生们流动的魅力充满着朝</tspan><tspan x="1957" dy="16.3">气，在校园中刷新成绩，我相信到那时同学们</tspan><tspan x="1957" dy="16.3">只要有展示就会有奇迹。</tspan></text><path class="u" d="M1950 2811H2216"/></g>
<g id="r3h1"><text class="t" x="2246" y="2690.5">老师们、同学们，松弛的神经又该绷紧了，床<tspan x="2246" dy="16.3">头的闹钟又将激起清晨的奏鸣！我们广大教师</tspan><tspan x="2246" dy="16.3">要立足课堂，向课堂40分钟要质量，全面提</tspan><tspan x="2246" dy="16.3">升自身素质和教学能力。我们要自加压力，敢</tspan><tspan x="2246" dy="16.3">于争先，开拓创新，与时俱进。最后，祝全体</tspan><tspan x="2246" dy="16.3">师生在新的一年里更上一层！</tspan></text><path class="u" d="M2240 2782H2507"/></g>
<g id="r3h2"><text class="t" x="2246" y="2827">谢谢大家！</text><path class="u" d="M2240 2837H2316"/></g>

<!-- 第五篇 -->
<g id="r5"><text class="t h" x="1540" y="3169">春季如何打造炫酷范文 第五篇</text><path class="u" d="M1530 3181H1766"/></g>
<g id="r5i"><text class="t" x="1794" y="3171">各位亲爱的同事们：</text><path class="u" d="M1787 3181H1913"/></g>
<g id="r5a"><text class="t" x="1944" y="2885">大家好。</text><path class="u" d="M1937 2895H2002"/></g>
<g id="r5b"><text class="t" x="1944" y="2940.1">我酒店20xx年春节联欢晚会要在2月8号举行<tspan x="1944" dy="16.3">了。这将是我酒店的又一次盛会。我们将再次</tspan><tspan x="1944" dy="16.3">感受到脉搏的激烈、燃烧的激情，触摸到跳跃</tspan><tspan x="1944" dy="16.3">的音符以及体会到四射的光芒。</tspan></text><path class="u" d="M1937 2999H2204"/></g>
<g id="r5c"><text class="t" x="1944" y="3045.1">春晚是检阅我酒店工作水平高低的又一个体现<tspan x="1944" dy="16.3">，是对我们员工生活品质、精神面貌的一个评</tspan><tspan x="1944" dy="16.3">价，亦是每个班组、每个员工工作状态、自我</tspan><tspan x="1944" dy="16.3">挖掘以及展现其它能力的一个舞台。</tspan></text><path class="u" d="M1937 3104H2204"/></g>
<g id="r5d"><text class="t" x="1944" y="3149.1">去年的春晚，在全体员工的共同努力下取得了<tspan x="1944" dy="16.3">极好的反响，这些成绩的取得是全体员工齐心</tspan><tspan x="1944" dy="16.3">协力、艰苦努力、拼搏奉献的结果。在此，我</tspan><tspan x="1944" dy="16.3">向大家表示最衷心的感谢并为此倍感骄傲。</tspan></text><path class="u" d="M1937 3208H2204"/></g>
<g id="r5e"><text class="t" x="1944" y="3253.5">虽然去年我们取得了一定的成绩，但我们要走<tspan x="1944" dy="16.3">的路还很长。今年的春晚节目希望并需要大家</tspan><tspan x="1944" dy="16.3">的再接再厉，只要你付出了汗水，就会有回报</tspan><tspan x="1944" dy="16.3">，每一个新的高度，是一个不断挑战自我的过</tspan><tspan x="1944" dy="16.3">程，只要顽强的拼搏，就能取得优异的成果，</tspan><tspan x="1944" dy="16.3">只要有坚定的信心，舞台上就会留下你的身影</tspan></text><path class="u" d="M1937 3345H2204"/></g>
<g id="r5f"><text class="t" x="1944" y="3391.8">有一句名言，我特别欣赏：“尝试了，也许未<tspan x="1944" dy="16.3">必成功，但不尝试，就只能失败。”现在我将</tspan><tspan x="1944" dy="16.3">这句话送给在座的每一位，愿这句话能时刻支</tspan><tspan x="1944" dy="16.3">持、激励大家，陪伴各位搏击风雨，登上春晚</tspan><tspan x="1944" dy="16.3">!谢谢!</tspan></text><path class="u" d="M1937 3467H2204"/></g>

<!-- 第七篇 -->
<g id="r7"><text class="t h" x="1540" y="3983">春季如何打造炫酷范文 第七篇</text><path class="u" d="M1530 3995H1766"/></g>
<g id="r7i"><text class="t" x="1794" y="3985">尊敬的各位领导、老师，亲爱的同学们：</text><path class="u" d="M1787 3995H2027"/></g>
<g id="r7a"><text class="t" x="2058" y="3512">大家上午好!</text><path class="u" d="M2052 3522H2131"/></g>
<g id="r7b"><text class="t" x="2058" y="3568.7">今天，我很高兴，也非常荣幸，能够代表我们<tspan x="2058" dy="16.3">初二年级全体同学在开学典礼上发言。</tspan></text><path class="u" d="M2052 3595H2317"/></g>
<g id="r7c"><text class="t" x="2058" y="3640.8">弹指一挥间，一年的光阴，眨眼就过去了。去<tspan x="2058" dy="16.3">年这个时候，我们还是一群不知天高地厚的初</tspan><tspan x="2058" dy="16.3">一学生。也是在这里，聆听着老师们的教诲，</tspan><tspan x="2058" dy="16.3">学习着哥哥姐姐们的经验，心里憧憬着美好的</tspan><tspan x="2058" dy="16.3">生活。</tspan></text><path class="u" d="M2052 3716H2317"/></g>
<g id="r7d"><text class="t" x="2058" y="3761.8">在这一年多里，我们经历了很多、收获了很多<tspan x="2058" dy="16.3">。在和同学的交往中，我们学会了宽容，学会</tspan><tspan x="2058" dy="16.3">了处处为他人着想；在生活中，我们懂得了劳</tspan><tspan x="2058" dy="16.3">动的可贵，知道生活的艰辛；在学习上，我们</tspan><tspan x="2058" dy="16.3">明白了“勤奋”。</tspan></text><path class="u" d="M2052 3837H2317"/></g>
<g id="r7e"><text class="t" x="2058" y="3883.2">“书山有路勤为径，学海无涯苦作舟”。学习是<tspan x="2058" dy="16.3">一种艰苦的脑力劳动，它既需要老老实实的学</tspan><tspan x="2058" dy="16.3">习态度，也需要科学合理的学习方法，这样才</tspan><tspan x="2058" dy="16.3">能取得更高的效率。同时“不耻下问”也是必不</tspan><tspan x="2058" dy="16.3">可少的，“学问学问，连学带问”，法国大文豪</tspan><tspan x="2058" dy="16.3">巴尔扎克也曾说过：“打开一切科学的钥匙，</tspan><tspan x="2058" dy="16.3">都毫无疑问的是问号。”</tspan></text><path class="u" d="M2052 3991H2317"/></g>
<g id="r7f"><text class="t" x="2058" y="4036.7">而今天，在这里，我们除了倾听老师的教诲，<tspan x="2058" dy="16.3">还要做的一件重要的事情那就是“感恩”：学校</tspan><tspan x="2058" dy="16.3">为我们提供了一个良好的学习环境；老师在这</tspan><tspan x="2058" dy="16.3">一年里无私的教导我们、帮助我们成长；亲人</tspan><tspan x="2058" dy="16.3">在这漫长岁月里一直做我们坚强的后盾；朋友</tspan><tspan x="2058" dy="16.3">在困难的时候送来了关心与问候……这一切的</tspan><tspan x="2058" dy="16.3">一切都使我们心存感激。而我们用什么来感谢</tspan><tspan x="2058" dy="16.3">他们的付出呢?要做的就是两个字——“回报”</tspan><tspan x="2058" dy="16.3">。回报什么?我想每个人心里都十分明白。我</tspan><tspan x="2058" dy="16.3">们只有以良好的思想品德、优异的学习成绩、</tspan><tspan x="2058" dy="16.3">文明的言行举止来回报朋友、家人、老师、学</tspan><tspan x="2058" dy="16.3">校和社会。</tspan></text><path class="u" d="M2052 4226H2317"/></g>
<g id="r7g"><text class="t" x="2058" y="4271.9">同时，在本期中，我们初二年级的全体同学会<tspan x="2058" dy="16.3">更加努力学习，抓住初中生活的重要阶段，全</tspan><tspan x="2058" dy="16.3">力以赴，认真对待生地会考，并为顺利升上准</tspan><tspan x="2058" dy="16.3">高一做好冲刺准备。在刻苦学习的同时，我们</tspan><tspan x="2058" dy="16.3">还会积极参加学校组织的各项活动，丰富课余</tspan><tspan x="2058" dy="16.3">生活，做到学习、生活两不误。在保持一直良</tspan><tspan x="2058" dy="16.3">好的学习氛围的同时，再接再厉，再创新的辉</tspan><tspan x="2058" dy="16.3">煌。</tspan></text><path class="u" d="M2052 4396H2317"/></g>
<g id="r7h"><text class="t" x="2058" y="4441.7">路上春色正好，天上太阳正晴;让我们乘理想<tspan x="2058" dy="16.3">之马，挥鞭从此起程。</tspan></text><path class="u" d="M2052 4468H2317"/></g>

<!-- 第九篇 -->
<g id="r9"><text class="t h" x="1540" y="5202">春季如何打造炫酷范文 第九篇</text><path class="u" d="M1530 5214H1766"/></g>
<g id="r9a"><text class="t" x="1794" y="4530">一、组织领导</text><path class="u" d="M1787 4540H1882"/></g>
<g id="r9a1"><text class="t" x="1907" y="4513.7">为切实加强领导，特成立区春节期间环境布置<tspan x="1907" dy="16.3">和氛围营造工作领导小组。</tspan></text><path class="u" d="M1901 4540H2166"/></g>
<g id="r9b"><text class="t" x="1794" y="5062">二、任务分工</text><path class="u" d="M1787 5072H1882"/></g>
<g id="r9b1"><text class="t" x="1909" y="4586">（一）统筹协调组</text><path class="u" d="M1901 4596H2013"/></g>
<g id="r9b2"><text class="t" x="1907" y="4723">工作任务：</text><path class="u" d="M1901 4733H1972"/></g>
<g id="r9b2a"><text class="t" x="2006" y="4642.7">（1）负责与市路灯管理处、市城管委等上级<tspan x="2006" dy="16.3">部门协调联系；</tspan></text><path class="u" d="M1999 4669H2265"/></g>
<g id="r9b2b"><text class="t" x="2006" y="4713.7">（2）负责整个环境布置和氛围营造工作的整<tspan x="2006" dy="16.3">体策划和各工作组工作的协调。</tspan></text><path class="u" d="M1999 4740H2265"/></g>
<g id="r9b2c"><text class="t" x="2006" y="4787">（二）环境布置组</text><path class="u" d="M1999 4797H2111"/></g>
<g id="r9b3"><text class="t" x="1907" y="5044">工作任务：</text><path class="u" d="M1901 5054H1972"/></g>
<g id="r9b3a"><text class="t" x="2006" y="4843.7">（1）区城建局负责重要道路节点花卉造型摆<tspan x="2006" dy="16.3">放、八一公园内环境布置、氛围营造等工作；</tspan></text><path class="u" d="M1999 4870H2265"/></g>
<g id="r9b3b"><text class="t" x="2006" y="4915.7">（2）区商务局负责胜利路步行街街区氛围布<tspan x="2006" dy="16.3">置；</tspan></text><path class="u" d="M1999 4942H2265"/></g>
<g id="r9b3c"><text class="t" x="2006" y="4987.5">（3）区文广局负责对八一大道、阳明路、阳<tspan x="2006" dy="16.3">明东路、北京西路（北侧）、叠山路、南京西</tspan><tspan x="2006" dy="16.3">路、抚河北路、滨江路等主干道灯杆上悬挂大</tspan><tspan x="2006" dy="16.3">红灯笼，阳明路玻璃幕墙上张贴大幅新年祝福</tspan><tspan x="2006" dy="16.3">图片，阳明东路隧道东、西方向制作宣传标语</tspan><tspan x="2006" dy="16.3">等氛围营造工作；</tspan></text><path class="u" d="M1999 5079H2265"/></g>
<g id="r9b3d"><text class="t" x="2006" y="5124.1">（4）各街办、贤士湖管理处要按照属地原则<tspan x="2006" dy="16.3">，组织好辖区内社区、党政机关、企事业单位</tspan><tspan x="2006" dy="16.3">、学校、车站、宾馆、商场等进行春节期间门</tspan><tspan x="2006" dy="16.3">面环境布置，营造节日氛围。</tspan></text><path class="u" d="M1999 5183H2265"/></g>
<g id="r9b3e"><text class="t" x="2006" y="5230">（三）市容整治组</text><path class="u" d="M1999 5240H2111"/></g>
<g id="r9b4"><text class="t" x="1907" y="5366">工作任务：</text><path class="u" d="M1901 5376H1972"/></g>
<g id="r9b4a"><text class="t" x="2006" y="5285.7">（1）负责春节期间公共休闲场所环境维护工<tspan x="2006" dy="16.3">作；</tspan></text><path class="u" d="M1999 5312H2265"/></g>
<g id="r9b4b"><text class="t" x="2006" y="5358.7">（2）负责重要道路、重点路段环境卫生维护<tspan x="2006" dy="16.3">及经营秩序整治工作。</tspan></text><path class="u" d="M1999 5385H2265"/></g>
<g id="r9b4c"><text class="t" x="2006" y="5430">（四）社会宣传组</text><path class="u" d="M1999 5440H2111"/></g>
<g id="r9b5"><text class="t" x="1907" y="5539">工作任务：</text><path class="u" d="M1901 5549H1972"/></g>
<g id="r9b5a"><text class="t" x="2006" y="5486.7">（1）负责全区新春文化节活动的策划和宣传<tspan x="2006" dy="16.3">；</tspan></text><path class="u" d="M1999 5513H2265"/></g>
<g id="r9b5b"><text class="t" x="2006" y="5557.7">（2）负责春节期间领导走访，群众文化活动<tspan x="2006" dy="16.3">的新闻报导工作。</tspan></text><path class="u" d="M1999 5584H2265"/></g>
<g id="r9c"><text class="t" x="1794" y="5881">三、具体要求</text><path class="u" d="M1787 5891H1882"/></g>
<g id="r9c1"><text class="t" x="1907" y="5631.2">1、高度重视，加强领导。各相关单位负责人<tspan x="1907" dy="16.3">要高度重视，充分认识做好20xx年区春节期</tspan><tspan x="1907" dy="16.3">间社会环境布置工作的重要性和严肃性，提高</tspan><tspan x="1907" dy="16.3">责任性和自觉性，增强主动性和预见性，既要</tspan><tspan x="1907" dy="16.3">明确分工，又要协调配合和统筹兼顾，要精心</tspan><tspan x="1907" dy="16.3">组织和周密安排，确保节日氛围布置各项任务</tspan><tspan x="1907" dy="16.3">落到实处。</tspan></text><path class="u" d="M1901 5739H2166"/></g>
<g id="r9c2"><text class="t" x="1907" y="5784.6">2、创新意识，突出成效。春节期间节日氛围<tspan x="1907" dy="16.3">布置，既要坚持传统，又要勇于创新；既要注</tspan><tspan x="1907" dy="16.3">重规模和数量，更要注重质量和效果。各相关</tspan><tspan x="1907" dy="16.3">单位要精心组织、精心策划、精心安排、精心</tspan><tspan x="1907" dy="16.3">落实，使春节社会环境布置大气醒目，充分融</tspan><tspan x="1907" dy="16.3">入春节、元宵节为主题的传统民族文化元素，</tspan><tspan x="1907" dy="16.3">要注重点面结合，既要覆盖面广，又要打造亮</tspan><tspan x="1907" dy="16.3">点景观，达到成规模、创新意、出气势、高水</tspan><tspan x="1907" dy="16.3">平的综合效果。</tspan></text><path class="u" d="M1901 5925H2166"/></g>
<g id="r9c3"><text class="t" x="1907" y="5970.8">3、各相关单位要制定详细春节期间环境布置<tspan x="1907" dy="16.3">和氛围营造工作实施方案，环境布置要根据道</tspan><tspan x="1907" dy="16.3">路、街区的地形特点统一风格，要做好环境布</tspan><tspan x="1907" dy="16.3">置设施的日常维护保养，如有损坏褪色需及时</tspan><tspan x="1907" dy="16.3">更换。</tspan></text><path class="u" d="M1901 6046H2166"/></g>
</g>
</svg>
